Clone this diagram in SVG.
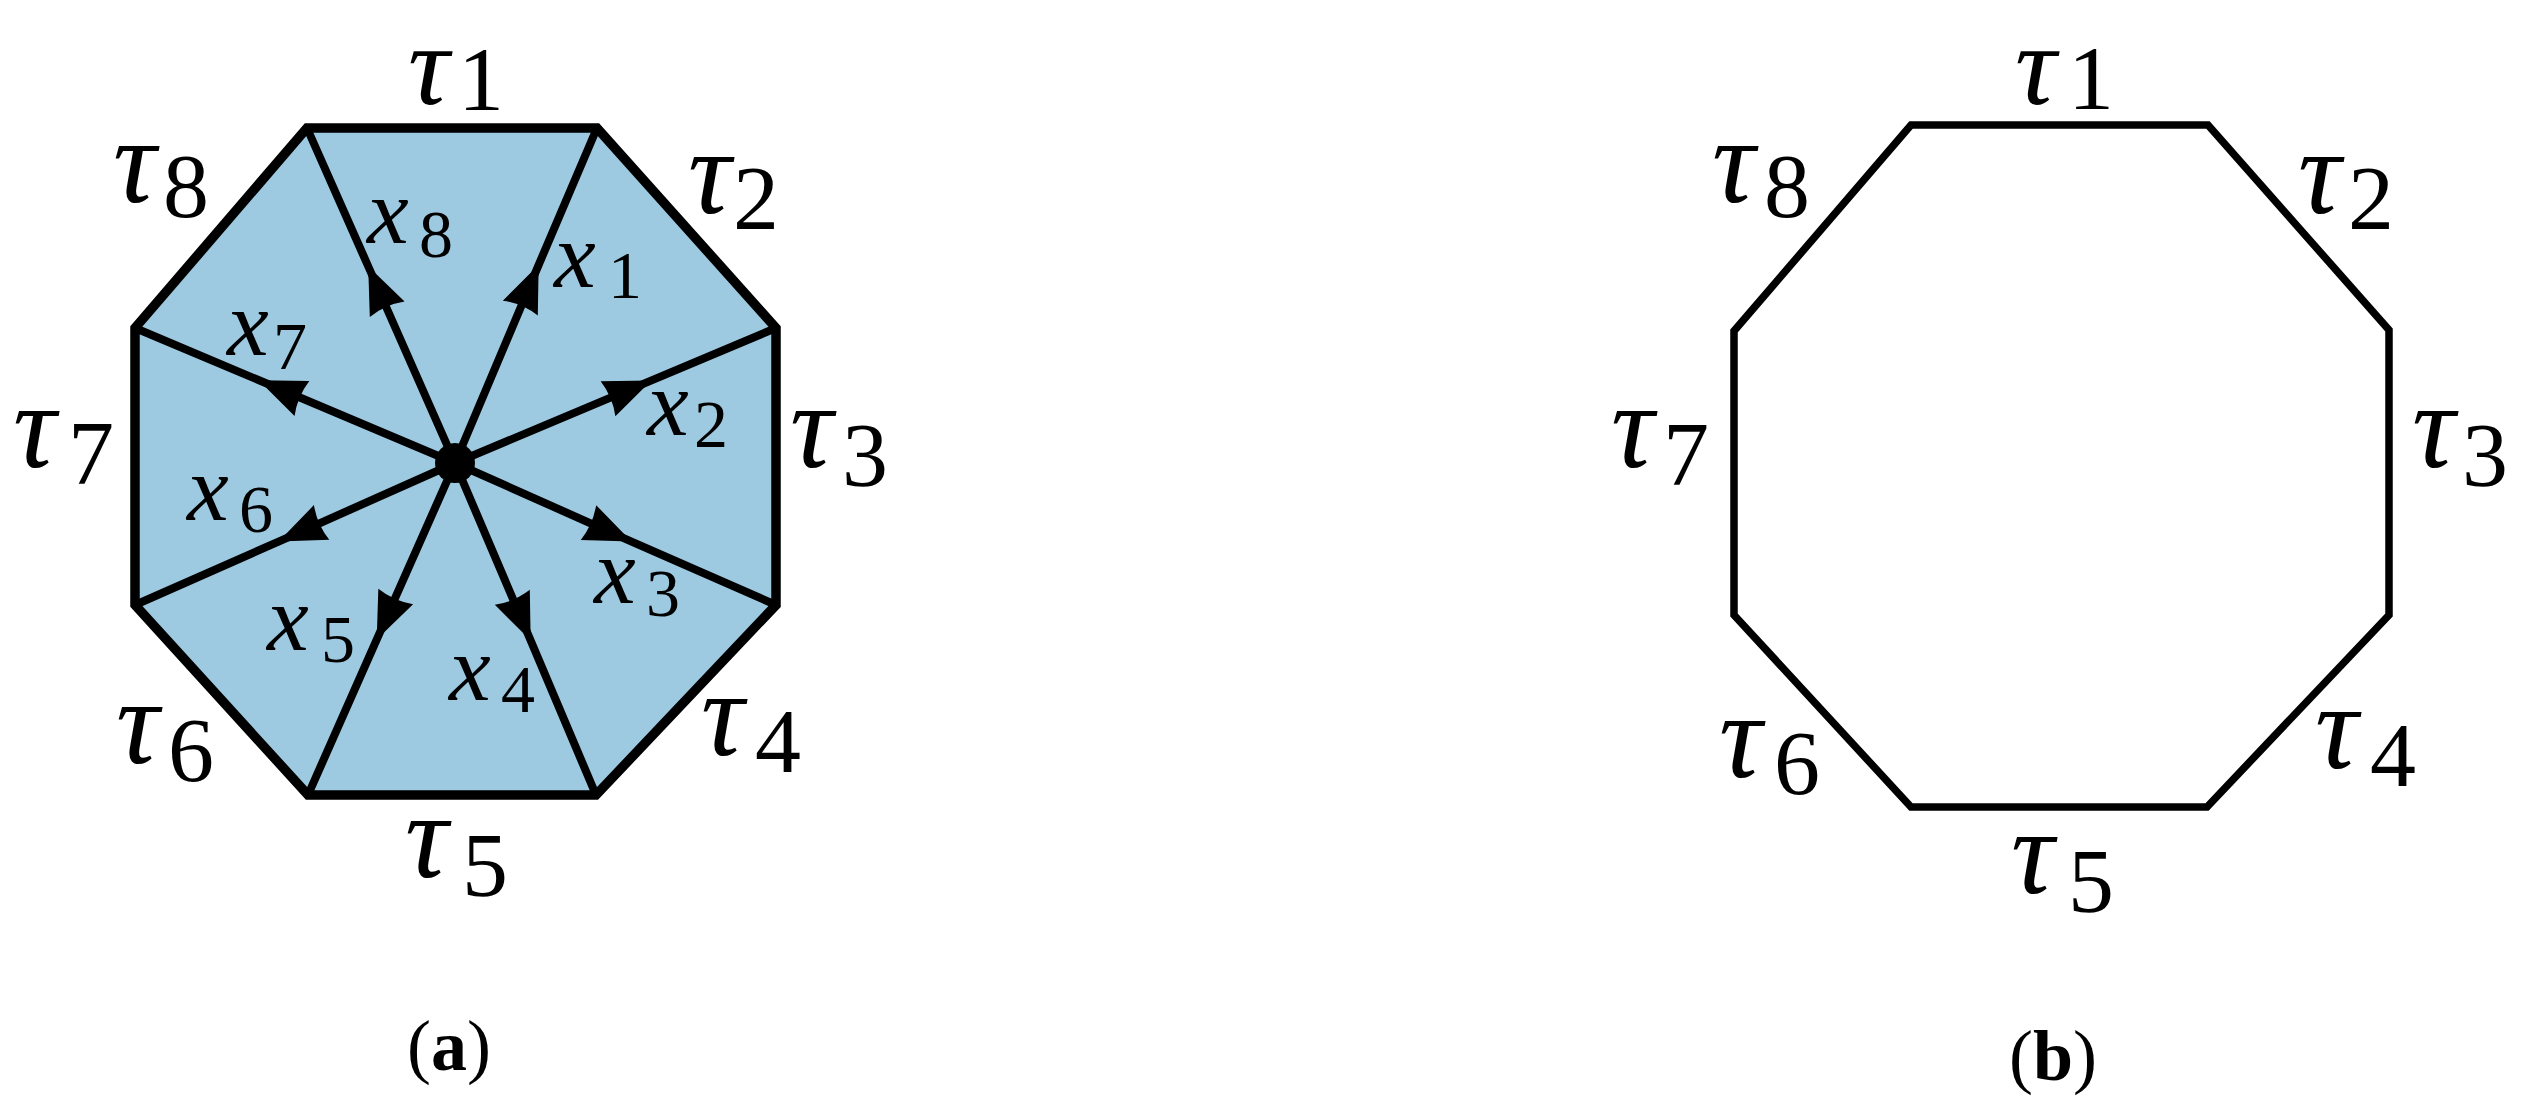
<svg xmlns="http://www.w3.org/2000/svg" width="2526" height="1106" viewBox="0 0 2526 1106">
<style>
.oct-a{fill:#9ecae1;stroke:#000;stroke-width:9.5;stroke-linejoin:miter}
.oct-b{fill:none;stroke:#000;stroke-width:7.5;stroke-linejoin:miter}
.spoke{fill:none;stroke:#000;stroke-width:8;marker-mid:url(#arr)}
.tau{font-family:"Liberation Serif","DejaVu Serif",serif;font-style:italic;font-size:120px;fill:#000}
.top{font-size:115px}
.xv{font-family:"Liberation Serif","DejaVu Serif",serif;font-style:italic;font-size:94px;fill:#000}
.s1{font-style:normal;font-size:92px}
.s2{font-style:normal;font-size:68px}
.cap{font-family:"Liberation Serif","DejaVu Serif",serif;font-size:72px;fill:#000;text-anchor:middle}
.cap .b{font-weight:bold}
</style>
<defs>
<marker id="arr" markerUnits="userSpaceOnUse" markerWidth="60" markerHeight="48" viewBox="-54 -24 60 48" refX="0" refY="0" orient="auto">
<path d="M3,0 L-44,-19 Q-39,0 -44,19 Z" fill="#000"/>
</marker>
</defs>
<rect width="2526" height="1106" fill="#fff"/>

<g id="panel-a">
<g id="octagon-a"><polygon class="oct-a" points="307,128 597,128 776,328 776,605 596,795 308,795 135,605 135,328"/></g>
<g id="connectors-a">
<polyline id="e-x1" class="spoke" points="455,463 537.5,267.6 597,128"/>
<polyline id="e-x2" class="spoke" points="455,463 648.6,381.6 776,328"/>
<polyline id="e-x3" class="spoke" points="455,463 628.7,540.3 776,605"/>
<polyline id="e-x4" class="spoke" points="455,463 529.5,637.8 596,795"/>
<polyline id="e-x5" class="spoke" points="455,463 377.9,636.8 308,795"/>
<polyline id="e-x6" class="spoke" points="455,463 281.4,540.3 135,605"/>
<polyline id="e-x7" class="spoke" points="455,463 261.4,381.3 135,328"/>
<polyline id="e-x8" class="spoke" points="455,463 369.4,269 307,128"/>
</g>
<g id="hub"><circle cx="455" cy="463" r="20" fill="#000"/></g>
<g id="labels-a">
<text class="tau top" x="408" y="104">τ<tspan class="s1" x="458" y="110">1</tspan></text>
<text class="tau" x="688" y="213">τ<tspan class="s1" x="733" y="229">2</tspan></text>
<text class="tau" x="790" y="467">τ<tspan class="s1" x="842" y="486">3</tspan></text>
<text class="tau" x="701" y="755">τ<tspan class="s1" x="755" y="772">4</tspan></text>
<text class="tau" x="405" y="877">τ<tspan class="s1" x="462" y="896">5</tspan></text>
<text class="tau" x="116" y="763">τ<tspan class="s1" x="168" y="781">6</tspan></text>
<text class="tau" x="13" y="467">τ<tspan class="s1" x="68" y="484">7</tspan></text>
<text class="tau" x="113" y="202">τ<tspan class="s1" x="163" y="217">8</tspan></text>
<text class="xv" x="554" y="287">x<tspan class="s2" x="608" y="298">1</tspan></text>
<text class="xv" x="647" y="435">x<tspan class="s2" x="694" y="447">2</tspan></text>
<text class="xv" x="594" y="603">x<tspan class="s2" x="646" y="616">3</tspan></text>
<text class="xv" x="449" y="700">x<tspan class="s2" x="501" y="712">4</tspan></text>
<text class="xv" x="267" y="650">x<tspan class="s2" x="321" y="662">5</tspan></text>
<text class="xv" x="187" y="520">x<tspan class="s2" x="239" y="532">6</tspan></text>
<text class="xv" x="227" y="355">x<tspan class="s2" x="273" y="369">7</tspan></text>
<text class="xv" x="367" y="243">x<tspan class="s2" x="419" y="257">8</tspan></text>
</g>
<text class="cap" x="449" y="1070">(<tspan class="b">a</tspan>)</text>
</g>

<g id="panel-b">
<g id="octagon-b"><polygon class="oct-b" points="1911,125 2208,125 2389,330 2389,615 2207,807 1911,807 1734,615 1734,331"/></g>
<g id="labels-b">
<text class="tau top" x="2015" y="104">τ<tspan class="s1" x="2068" y="109">1</tspan></text>
<text class="tau" x="2298" y="213">τ<tspan class="s1" x="2348" y="229">2</tspan></text>
<text class="tau" x="2412" y="467">τ<tspan class="s1" x="2462" y="486">3</tspan></text>
<text class="tau" x="2315" y="768">τ<tspan class="s1" x="2370" y="786">4</tspan></text>
<text class="tau" x="2011" y="893">τ<tspan class="s1" x="2068" y="912">5</tspan></text>
<text class="tau" x="1719" y="777">τ<tspan class="s1" x="1774" y="794">6</tspan></text>
<text class="tau" x="1611" y="467">τ<tspan class="s1" x="1663" y="485">7</tspan></text>
<text class="tau" x="1712" y="202">τ<tspan class="s1" x="1764" y="217">8</tspan></text>
</g>
<text class="cap" x="2053" y="1080">(<tspan class="b">b</tspan>)</text>
</g>
</svg>
